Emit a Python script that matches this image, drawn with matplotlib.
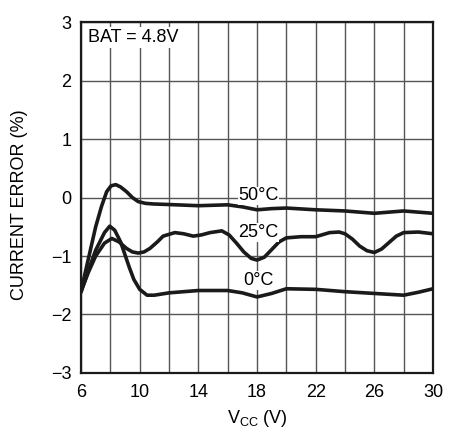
import matplotlib
matplotlib.use('Agg')
import matplotlib.pyplot as plt

plt.rcParams['font.family'] = ['Liberation Sans Narrow', 'Liberation Sans', 'DejaVu Sans']

# Valores
vcc_50 = [6.0, 6.5, 7.0, 7.4, 7.75, 8.05, 8.37, 8.7, 9.1, 9.5, 9.9, 10.4, 10.9, 12.0,
          14.0, 16.0, 17.0, 18.0, 19.0, 20.0, 22.0, 24.0, 26.0, 27.0, 28.0, 29.0, 30.0]
err_50 = [-1.6, -1.05, -0.5, -0.15, 0.1, 0.2, 0.22, 0.18, 0.1, 0.0, -0.07, -0.1, -0.11, -0.12,
          -0.14, -0.125, -0.16, -0.21, -0.19, -0.18, -0.21, -0.23, -0.27, -0.25, -0.23, -0.25, -0.27]

vcc_25 = [6.0, 6.5, 7.0, 7.6, 8.1, 8.6, 9.1, 9.5, 9.9, 10.3, 10.7, 11.2, 11.6, 12.4, 13.0,
          13.65, 14.2, 14.8, 15.6, 16.1, 16.6, 17.1, 17.6, 18.0, 18.5, 19.0, 19.5, 20.0, 21.0,
          22.0, 22.95, 23.6, 24.0, 24.5, 25.0, 25.5, 26.0, 26.5, 27.0, 27.5, 28.0, 29.0, 30.0]
err_25 = [-1.6, -1.28, -1.0, -0.78, -0.7, -0.76, -0.87, -0.93, -0.95, -0.93, -0.87, -0.76,
          -0.66, -0.6, -0.62, -0.66, -0.64, -0.6, -0.57, -0.64, -0.78, -0.93, -1.04, -1.07,
          -1.02, -0.89, -0.76, -0.69, -0.67, -0.67, -0.6, -0.59, -0.62, -0.71, -0.83, -0.91,
          -0.94, -0.88, -0.77, -0.66, -0.6, -0.59, -0.62]

vcc_0 = [6.0, 6.5, 7.0, 7.6, 7.96, 8.3, 8.7, 9.0, 9.3, 9.6, 10.0, 10.5, 11.0, 12.0, 14.0, 16.0,
         17.0, 18.0, 19.0, 20.0, 22.0, 24.0, 26.0, 28.0, 29.0, 30.0]
err_0 = [-1.62, -1.25, -0.9, -0.6, -0.49, -0.56, -0.76, -0.98, -1.2, -1.4, -1.57, -1.67, -1.67,
         -1.63, -1.59, -1.59, -1.63, -1.7, -1.64, -1.56, -1.57, -1.61, -1.64, -1.67, -1.62, -1.56]

labels = ['50°C', '25°C', '0°C']
label_x = [18.1, 18.1, 18.1]
label_y = [0.03, -0.6, -1.42]

xticks = [6, 10, 14, 18, 22, 26, 30]
yticks = [-3, -2, -1, 0, 1, 2, 3]

fig = plt.figure(figsize=(4.58, 4.32), dpi=100, facecolor='white')
ax = fig.add_axes([0.1769, 0.1366, 0.7685, 0.8124])

# Rejilla cada 2 V y cada 1 %
for x in range(6, 31, 2):
    ax.axvline(x, color='#555555', linewidth=1.0, zorder=1)
for y in yticks:
    ax.axhline(y, color='#555555', linewidth=1.0, zorder=1)

for vx, vy in [(vcc_50, err_50), (vcc_25, err_25), (vcc_0, err_0)]:
    ax.plot(vx, vy, color='#1a1a1a', linewidth=2.6, solid_joinstyle='round',
            solid_capstyle='round', zorder=3)

for txt, lx, ly in zip(labels, label_x, label_y):
    ax.text(lx, ly, txt, ha='center', va='center', fontsize=13, zorder=4,
            bbox=dict(facecolor='white', edgecolor='none', pad=0.5))

ax.text(6.5, 2.74, 'BAT = 4.8V', ha='left', va='center', fontsize=13, zorder=4,
        bbox=dict(facecolor='white', edgecolor='none', pad=1.5))

ax.set_xlim(6, 30)
ax.set_ylim(-3, 3)
ax.set_xticks(xticks)
ax.set_yticks(yticks)
ax.set_yticklabels([str(t).replace('-', '\u2212') for t in yticks])
ax.tick_params(axis='both', length=0, labelsize=13)
ax.tick_params(axis='x', pad=8)
ax.tick_params(axis='y', pad=7)

for s in ax.spines.values():
    s.set_linewidth(1.6)
    s.set_color('#1a1a1a')
    s.set_zorder(5)

ax.set_xlabel(r'V$_{\mathregular{CC}}$ (V)', fontsize=13)
ax.xaxis.set_label_coords(0.5, -0.1)
ax.set_ylabel('CURRENT ERROR (%)', fontsize=13)
ax.yaxis.set_label_coords(-0.15, 0.48)

fig.savefig('out.png', dpi=100, facecolor='white')
plt.close(fig)
